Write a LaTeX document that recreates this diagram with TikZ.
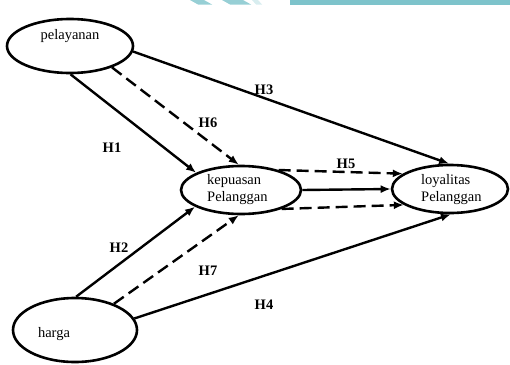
\documentclass[tikz,border=0pt]{standalone}
\usepackage{fontspec}
\setmainfont{Liberation Serif}
\usetikzlibrary{shapes.geometric,arrows.meta}
\definecolor{teal1}{HTML}{7DC3CB}
\tikzset{
  var/.style={draw=black, line width=2.6pt, ellipse, inner sep=0pt},
  lbl/.style={font=\fontsize{14.5}{17}\selectfont, inner sep=0pt, align=left},
  hyp/.style={font=\fontsize{14.5}{17}\selectfont\bfseries, inner sep=0pt},
  arr/.style={line width=2.4pt, -{Latex[length=10pt,width=8pt]}},
  darr/.style={arr, dash pattern=on 12pt off 6pt},
}
\begin{document}
\begin{tikzpicture}[x=1pt,y=-1pt]
\useasboundingbox (0,0) rectangle (510,364);
% top decorative bar
\fill[teal1] (290,0) rectangle (510,4.5);
\fill[teal1, opacity=0.8] (190,0) -- (204,0) -- (212,4.5) -- (198,4.5) -- cycle;
\fill[teal1, opacity=0.8] (222,0) -- (243,0) -- (251,4.5) -- (230,4.5) -- cycle;
\fill[teal1, opacity=0.3] (252,0) -- (258,0) -- (262,4.5) -- (256,4.5) -- cycle;

% variables
\node[var, minimum width=126pt, minimum height=54pt] (pel) at (70,46) {};
\node[var, minimum width=120pt, minimum height=48pt] (kep) at (241,190) {};
\node[var, minimum width=116pt, minimum height=48pt] (loy) at (450,189) {};
\node[var, minimum width=124pt, minimum height=64pt] (har) at (75,330) {};

\node[lbl] (tpel) at (70,36) {pelayanan};
\node[lbl, anchor=west] (tkep) at (207,190) {kepuasan\\Pelanggan};
\node[lbl, anchor=west] (tloy) at (421,190) {loyalitas\\Pelanggan};
\node[lbl] (thar) at (54,334) {harga};

% connectors
\draw[arr] (pel.-89) -- (kep.159);
\draw[darr] (pel.-27) -- (kep.95);
\draw[arr] (pel.-5) -- (loy.92);
\draw[darr] (kep.28) -- (loy.162);
\draw[arr] (kep.east) -- (loy.west);
\draw[darr] (kep.-25) -- (loy.199);
\draw[arr] (har.88) -- (kep.200);
\draw[darr] (har.34) -- (kep.265);
\draw[arr] (har.11) -- (loy.-88);

% hypothesis labels
\node[hyp] (h1) at (112,148) {H1};
\node[hyp] (h6) at (208,123) {H6};
\node[hyp] (h3) at (264,90) {H3};
\node[hyp] (h5) at (346,164) {H5};
\node[hyp] (h2) at (119,248) {H2};
\node[hyp] (h7) at (208,271) {H7};
\node[hyp] (h4) at (264,305) {H4};
\end{tikzpicture}
\end{document}
